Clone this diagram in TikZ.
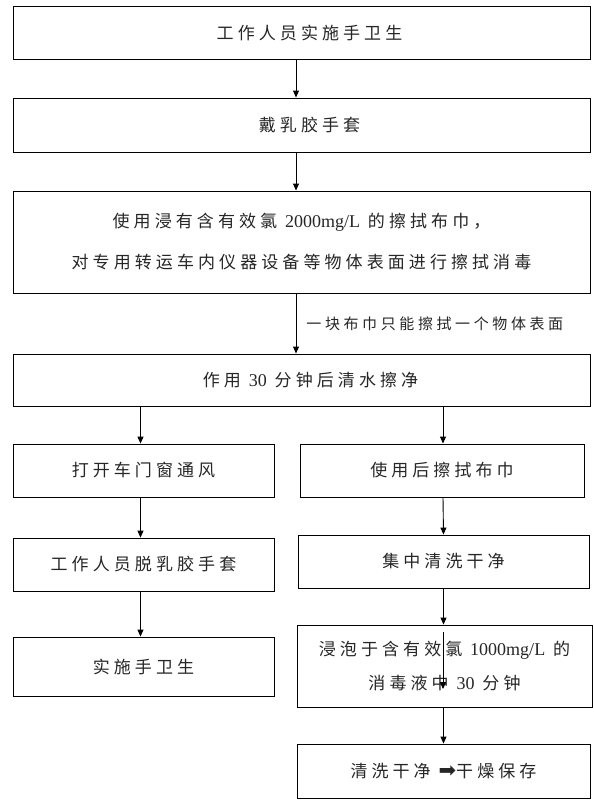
\documentclass[tikz,border=0pt]{standalone}
\usepackage{fontspec}
\setmainfont{Liberation Serif}
\newfontfamily\cjk[LetterSpace=24]{Noto Sans CJK SC}
\newfontfamily\latf{Liberation Serif}
\newfontfamily\arrowf{DejaVu Sans}
\newcommand{\nm}[1]{{\latf\fontsize{18}{20}\selectfont #1}}
\usetikzlibrary{arrows.meta}
\begin{document}
\begin{tikzpicture}[x=1pt,y=-1pt,
  box/.style={draw=black, line width=0.9pt, inner sep=0pt, align=center,
    font=\fontsize{17}{20}\selectfont\cjk, text=black!85},
  arr/.style={draw=black, line width=0.9pt, -{Triangle[length=7pt,width=6pt]}},
  lbl/.style={font=\fontsize{15}{18}\selectfont\cjk, text=black!85, inner sep=0pt}]
\useasboundingbox (0,0) rectangle (594,803);
\fill[white] (0,0) rectangle (594,803);
% top column
\node[box, minimum width=577pt, minimum height=53pt] (b1) at (301.5,33) {\hspace*{16pt}工作人员实施手卫生};
\node[box, minimum width=577pt, minimum height=54pt] (b2) at (301.5,125) {\hspace*{16pt}戴乳胶手套};
\node[box, minimum width=577pt, minimum height=102pt, font=\fontsize{17}{41}\selectfont\cjk] (b3) at (301.5,242)
  {使用浸有含有效氯 \nm{2000mg/L} 的擦拭布巾，\\对专用转运车内仪器设备等物体表面进行擦拭消毒};
\node[box, minimum width=577pt, minimum height=52pt] (b4) at (301.5,380) {\hspace*{18pt}作用 \nm{30} 分钟后清水擦净};
% left column
\node[box, minimum width=261pt, minimum height=53pt] (l1) at (143.5,470.5) {打开车门窗通风};
\node[box, minimum width=261pt, minimum height=53pt] (l2) at (143.5,564.5) {工作人员脱乳胶手套};
\node[box, minimum width=261pt, minimum height=59pt] (l3) at (143.5,666.5) {实施手卫生};
% right column
\node[box, minimum width=284pt, minimum height=53pt] (r1) at (442,470.5) {使用后擦拭布巾};
\node[box, minimum width=291pt, minimum height=53pt] (r2) at (443.5,561.5) {集中清洗干净};
\node[box, minimum width=295pt, minimum height=82pt, font=\fontsize{17}{34}\selectfont\cjk] (r3) at (444.5,666)
  {浸泡于含有效氯 \nm{1000mg/L} 的\\消毒液中 \nm{30} 分钟};
\node[box, minimum width=293pt, minimum height=54pt] (r4) at (443.5,771) {清洗干净 {\arrowf\fontsize{21}{20}\selectfont ➡}干燥保存};
% connectors
\draw[arr] ([xshift=-5.5pt]b1.south) -- ([xshift=-5.5pt]b2.north);
\draw[arr] ([xshift=-5.5pt]b2.south) -- ([xshift=-5.5pt]b3.north);
\draw[arr] ([xshift=-5.5pt]b3.south) -- node[lbl, anchor=west, xshift=10pt, yshift=0pt] {一块布巾只能擦拭一个物体表面} ([xshift=-5.5pt]b4.north);
\draw[arr] (b4.south -| l1.north) ++(-3pt,0) -- ([xshift=-3pt]l1.north);
\draw[arr] (b4.south -| r1.north) ++(1pt,0) -- ([xshift=1pt]r1.north);
\draw[arr] ([xshift=-3pt]l1.south) -- ([xshift=-3pt]l2.north);
\draw[arr] ([xshift=-3pt]l2.south) -- ([xshift=-3pt]l3.north);
\draw[arr] ([xshift=1pt]r1.south) -- ([xshift=0pt]r2.north);
\draw[arr] (r2.south) -- (r2.south |- r3.north);
\draw[arr] (r3.south -| r2.south) -- (r2.south |- r4.north);
\coordinate (s1) at (443,632);
\coordinate (s2) at (443,689);
\draw[arr] (s1) -- (s2);
\end{tikzpicture}
\end{document}
